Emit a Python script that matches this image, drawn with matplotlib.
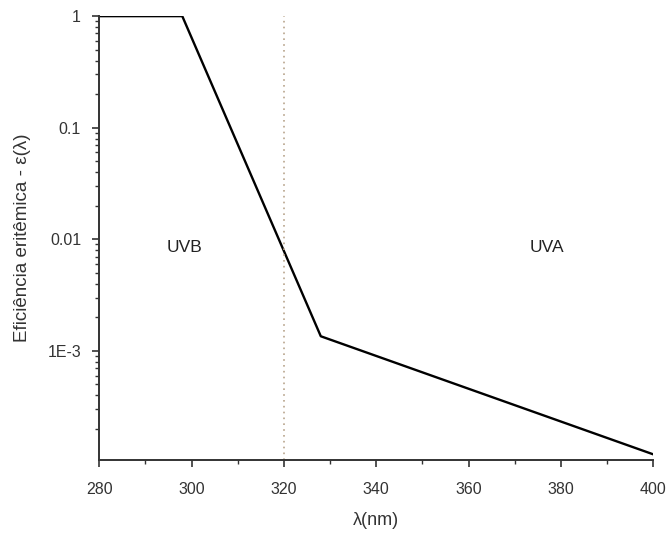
import numpy as np
import matplotlib.pyplot as plt
from matplotlib.ticker import FixedLocator, LogLocator, MultipleLocator, NullFormatter

plt.rcParams['font.family'] = ['Liberation Sans', 'DejaVu Sans']

# erythemal action spectrum, breakpoints
wavelength = [280, 298, 328, 400]
efficiency = [1.0, 1.0, 0.00135, 0.000118]

ytick_vals = [1e-3, 1e-2, 1e-1, 1]
ytick_labels = ['1E-3', '0.01', '0.1', '1']
xtick_vals = [280, 300, 320, 340, 360, 380, 400]

fig = plt.figure(figsize=(6.7, 5.38), dpi=100)
ax = fig.add_axes([0.148, 0.145, 0.827, 0.825])

ax.plot(wavelength, efficiency, color='black', lw=1.7)
ax.axvline(320, color='#b8a48c', lw=1.2, ls=(0, (1, 2.5)))

ax.text(298.5, 0.0085, 'UVB', fontsize=12.5, ha='center', va='center', color='#222222')
ax.text(377, 0.0085, 'UVA', fontsize=12.5, ha='center', va='center', color='#222222')

ax.set_yscale('log')
ax.set_xlim(280, 400)
ax.set_ylim(1.05e-4, 1.0)

ax.yaxis.set_major_locator(FixedLocator(ytick_vals))
ax.set_yticklabels(ytick_labels)
ax.yaxis.set_minor_locator(LogLocator(base=10, subs=np.arange(2, 10)))
ax.yaxis.set_minor_formatter(NullFormatter())
ax.set_xticks(xtick_vals)
ax.xaxis.set_minor_locator(MultipleLocator(10))

for side in ['top', 'right']:
    ax.spines[side].set_visible(False)
for side in ['left', 'bottom']:
    ax.spines[side].set_linewidth(1.4)
    ax.spines[side].set_color('#333333')

ax.tick_params(which='major', direction='out', length=5, width=1.2, labelsize=11.5,
               colors='#333333', pad=8)
ax.tick_params(axis='x', which='major', pad=11)
ax.tick_params(which='minor', direction='out', length=3, width=1.0, colors='#333333')

ax.set_xlabel('λ(nm)', fontsize=13, color='#333333', labelpad=11)
ax.set_ylabel('Eficiência eritêmica - ε(λ)', fontsize=13.5, color='#333333', labelpad=12)

fig.savefig('out.png', dpi=100)
